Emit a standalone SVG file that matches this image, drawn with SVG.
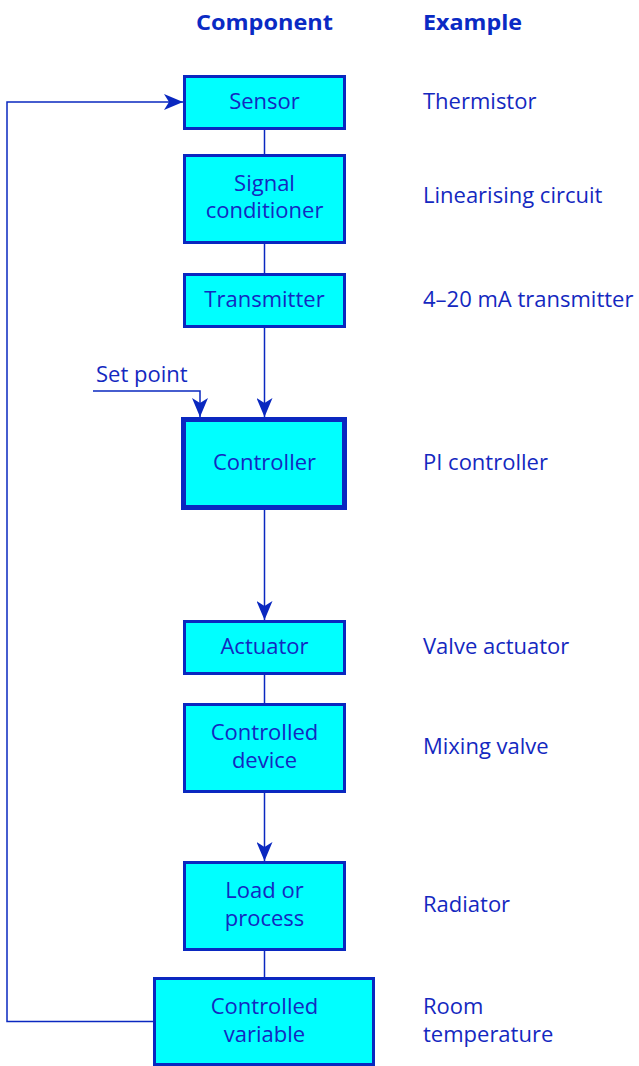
<svg xmlns="http://www.w3.org/2000/svg" width="639" height="1066" viewBox="0 0 639 1066">
  <style>
    text { font-family: "Open Sans", "Noto Sans", "Liberation Sans", sans-serif; font-size: 22px; fill: #1428c0; }
    .head { font-weight: bold; font-size: 21px; fill: #0a2ac4; }
    .mid { text-anchor: middle; }
    .box { fill: #00ffff; stroke: #0a28c0; stroke-width: 3; }
    .box-main { fill: #00ffff; stroke: #0a28c0; stroke-width: 5; }
    .link { fill: none; stroke: #0a28c0; stroke-width: 1.5; }
  </style>
  <defs>
    <marker id="arrow" viewBox="0 0 19 16" refX="19" refY="8" markerWidth="19" markerHeight="16" markerUnits="userSpaceOnUse" orient="auto">
      <path d="M0,0 L19,8 L0,16 L5,8 Z" fill="#0a28c0"/>
    </marker>
  </defs>

  <!-- column headings -->
  <text class="head" x="196" y="30" textLength="137" lengthAdjust="spacingAndGlyphs">Component</text>
  <text class="head" x="423" y="30" textLength="99" lengthAdjust="spacingAndGlyphs">Example</text>

  <!-- connectors -->
  <g id="connectors">
    <line class="link" x1="264.5" y1="129" x2="264.5" y2="154"/>
    <line class="link" x1="264.5" y1="243" x2="264.5" y2="274"/>
    <line class="link" x1="264.5" y1="327" x2="264.5" y2="417" marker-end="url(#arrow)"/>
    <polyline class="link" points="93,391 200,391 200,417" marker-end="url(#arrow)"/>
    <line class="link" x1="264.5" y1="510" x2="264.5" y2="620" marker-end="url(#arrow)"/>
    <line class="link" x1="264.5" y1="674" x2="264.5" y2="703"/>
    <line class="link" x1="264.5" y1="792" x2="264.5" y2="861" marker-end="url(#arrow)"/>
    <line class="link" x1="264.5" y1="950" x2="264.5" y2="978"/>
    <polyline class="link" points="153,1021.5 7,1021.5 7,102 183,102" marker-end="url(#arrow)"/>
    <text x="96" y="382">Set point</text>
  </g>

  <g id="sensor">
    <rect class="box" x="184.5" y="76.5" width="160" height="52"/>
    <text class="mid" x="264.5" y="109">Sensor</text>
    <text x="423" y="109">Thermistor</text>
  </g>

  <g id="signal-conditioner">
    <rect class="box" x="184.5" y="155.5" width="160" height="87"/>
    <text class="mid" x="264.5" y="191">Signal</text>
    <text class="mid" x="264.5" y="218">conditioner</text>
    <text x="423" y="203">Linearising circuit</text>
  </g>

  <g id="transmitter">
    <rect class="box" x="184.5" y="274.5" width="160" height="52"/>
    <text class="mid" x="264.5" y="307">Transmitter</text>
    <text x="423" y="307">4–20 mA transmitter</text>
  </g>

  <g id="controller">
    <rect class="box-main" x="183.5" y="419.5" width="161" height="88"/>
    <text class="mid" x="264.5" y="470">Controller</text>
    <text x="423" y="470">PI controller</text>
  </g>

  <g id="actuator">
    <rect class="box" x="184.5" y="621.5" width="160" height="52"/>
    <text class="mid" x="264.5" y="654">Actuator</text>
    <text x="423" y="654">Valve actuator</text>
  </g>

  <g id="controlled-device">
    <rect class="box" x="184.5" y="704.5" width="160" height="87"/>
    <text class="mid" x="264.5" y="740">Controlled</text>
    <text class="mid" x="264.5" y="768">device</text>
    <text x="423" y="754">Mixing valve</text>
  </g>

  <g id="load-or-process">
    <rect class="box" x="184.5" y="862.5" width="160" height="87"/>
    <text class="mid" x="264.5" y="898">Load or</text>
    <text class="mid" x="264.5" y="926">process</text>
    <text x="423" y="912">Radiator</text>
  </g>

  <g id="controlled-variable">
    <rect class="box" x="154.5" y="978.5" width="219" height="86"/>
    <text class="mid" x="264.5" y="1014">Controlled</text>
    <text class="mid" x="264.5" y="1042">variable</text>
    <text x="423" y="1014">Room</text>
    <text x="423" y="1042">temperature</text>
  </g>
</svg>
